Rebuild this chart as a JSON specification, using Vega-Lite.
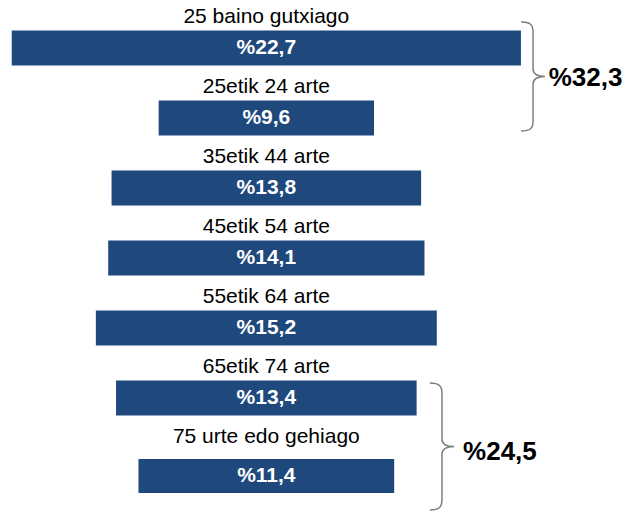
{
  "$schema": "https://vega.github.io/schema/vega-lite/v6.json",
  "width": 626,
  "height": 513,
  "padding": 0,
  "autosize": {"type": "none"},
  "background": "white",
  "config": {"view": {"stroke": null}, "font": "Liberation Sans"},
  "datasets": {
    "edad": [
      {"grupo": "25 baino gutxiago", "value": 22.7, "pct": "%22,7"},
      {"grupo": "25etik  24 arte", "value": 9.6, "pct": "%9,6"},
      {"grupo": "35etik  44 arte", "value": 13.8, "pct": "%13,8"},
      {"grupo": "45etik  54 arte", "value": 14.1, "pct": "%14,1"},
      {"grupo": "55etik 64 arte", "value": 15.2, "pct": "%15,2"},
      {"grupo": "65etik 74 arte", "value": 13.4, "pct": "%13,4"},
      {"grupo": "75 urte edo gehiago", "value": 11.4, "pct": "%11,4"}
    ],
    "totales": [
      {"grupo": "25 baino gutxiago", "total": "%32,3"},
      {"grupo": "75 urte edo gehiago", "total": "%24,5"}
    ]
  },
  "layer": [
    {
      "data": {"name": "edad"},
      "transform": [
        {"stack": "value", "groupby": ["grupo"], "offset": "center", "as": ["x0", "x1"]},
        {"filter": "datum.grupo !== '75 urte edo gehiago'"}
      ],
      "encoding": {
        "y": {
          "field": "grupo", "type": "nominal", "sort": null, "axis": null,
          "scale": {
            "domain": ["25 baino gutxiago", "25etik  24 arte", "35etik  44 arte", "45etik  54 arte", "55etik 64 arte", "65etik 74 arte", "75 urte edo gehiago"],
            "range": [0, 490],
            "paddingInner": 0, "paddingOuter": 0
          }
        }
      },
      "layer": [
        {
          "mark": {"type": "bar", "height": 35, "yOffset": 13, "color": "#1F497D"},
          "encoding": {
            "x": {"field": "x0", "type": "quantitative", "axis": null, "scale": {"domain": [-0.523, 27.384], "nice": false, "zero": false}},
            "x2": {"field": "x1"}
          }
        },
        {
          "mark": {"type": "text", "yOffset": 13, "color": "white", "fontWeight": "bold", "fontSize": 21, "baseline": "middle", "align": "center"},
          "encoding": {
            "x": {"datum": 11.35, "type": "quantitative"},
            "text": {"field": "pct"}
          }
        }
      ]
    },
    {
      "data": {"name": "edad"},
      "transform": [
        {"stack": "value", "groupby": ["grupo"], "offset": "center", "as": ["x0", "x1"]},
        {"filter": "datum.grupo === '75 urte edo gehiago'"}
      ],
      "encoding": {
        "y": {"field": "grupo", "type": "nominal", "sort": null, "axis": null}
      },
      "layer": [
        {
          "mark": {"type": "bar", "height": 34, "yOffset": 21, "color": "#1F497D"},
          "encoding": {
            "x": {"field": "x0", "type": "quantitative"},
            "x2": {"field": "x1"}
          }
        },
        {
          "mark": {"type": "text", "yOffset": 21, "color": "white", "fontWeight": "bold", "fontSize": 21, "baseline": "middle", "align": "center"},
          "encoding": {
            "x": {"datum": 11.35, "type": "quantitative"},
            "text": {"field": "pct"}
          }
        }
      ]
    },
    {
      "data": {"name": "edad"},
      "mark": {"type": "text", "dy": -18, "color": "black", "fontSize": 21, "baseline": "middle", "align": "center"},
      "encoding": {
        "y": {"field": "grupo", "type": "nominal", "sort": null, "axis": null},
        "x": {"datum": 11.35, "type": "quantitative"},
        "text": {"field": "grupo"}
      }
    },
    {
      "data": {"name": "totales"},
      "transform": [{"filter": "datum.grupo === '25 baino gutxiago'"}],
      "encoding": {
        "y": {"field": "grupo", "type": "nominal", "sort": null, "axis": null}
      },
      "layer": [
        {
          "mark": {"type": "point", "shape": "M-0.22,-1C-0.05,-1 0,-0.95 0,-0.82L0,-0.14C0,-0.05 0.08,0 0.22,0C0.08,0 0,0.05 0,0.14L0,0.82C0,0.95 -0.05,1 -0.22,1", "size": 11881, "filled": false, "stroke": "#7f7f7f", "strokeWidth": 1.5, "opacity": 1, "yOffset": 41.5},
          "encoding": {"x": {"datum": 23.24, "type": "quantitative"}}
        },
        {
          "mark": {"type": "text", "align": "left", "baseline": "middle", "fontWeight": "bold", "fontSize": 26, "color": "black", "yOffset": 43},
          "encoding": {"x": {"datum": 23.94, "type": "quantitative"}, "text": {"field": "total"}}
        }
      ]
    },
    {
      "data": {"name": "totales"},
      "transform": [{"filter": "datum.grupo === '75 urte edo gehiago'"}],
      "encoding": {
        "y": {"field": "grupo", "type": "nominal", "sort": null, "axis": null}
      },
      "layer": [
        {
          "mark": {"type": "point", "shape": "M-0.19,-1C-0.04,-1 0,-0.95 0,-0.84L0,-0.12C0,-0.04 0.07,0 0.19,0C0.07,0 0,0.04 0,0.12L0,0.84C0,0.95 -0.04,1 -0.19,1", "size": 16129, "filled": false, "stroke": "#7f7f7f", "strokeWidth": 1.5, "opacity": 1, "yOffset": -8.5},
          "encoding": {"x": {"datum": 19.18, "type": "quantitative"}}
        },
        {
          "mark": {"type": "text", "align": "left", "baseline": "middle", "fontWeight": "bold", "fontSize": 26, "color": "black", "yOffset": -3},
          "encoding": {"x": {"datum": 20.12, "type": "quantitative"}, "text": {"field": "total"}}
        }
      ]
    }
  ]
}
